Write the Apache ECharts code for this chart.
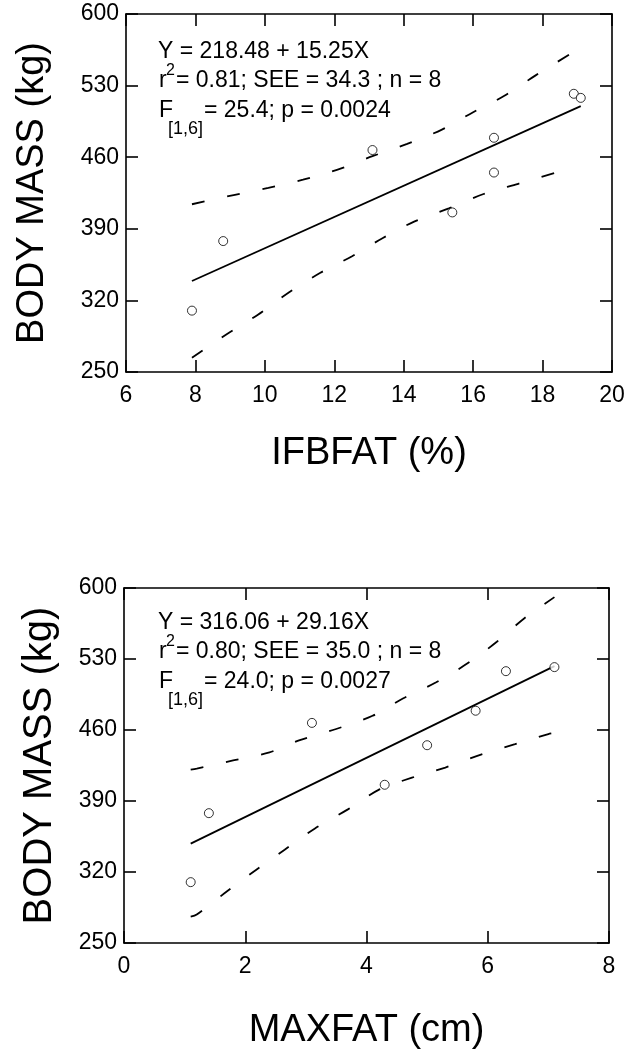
<!DOCTYPE html>
<html>
<head>
<meta charset="utf-8">
<script src="https://cdn.jsdelivr.net/npm/echarts@6/dist/echarts.min.js"></script>
<style>
  html, body { margin: 0; padding: 0; background: #fff; }
  #chart { width: 644px; height: 1051px; }
</style>
</head>
<body>
<div id="chart"></div>
<script>
// top panel: body mass vs IFBFAT
const ifbX = [7.9, 8.8, 13.1, 15.4, 16.6, 16.6, 18.9, 19.1]
const ifbMass = [310, 378, 467, 406, 479, 445, 522, 518]
const ifbFitX = [7.9, 19.1]
const ifbFitY = [339, 510]
const ifbUpperX = [7.9, 9.1, 10.1, 11.1, 12.2, 13.1, 14.1, 15.1, 16.0, 16.9, 17.8, 18.9]
const ifbUpperY = [414, 423, 430, 438, 449, 461, 473, 487, 504, 520, 540, 563]
const ifbLowerX = [7.9, 8.9, 9.8, 10.7, 11.6, 12.5, 13.4, 14.3, 15.3, 16.3, 17.3, 18.5]
const ifbLowerY = [264, 287, 306, 328, 347, 363, 381, 397, 410, 424, 434, 446]

// bottom panel: body mass vs MAXFAT
const maxX = [1.1, 1.4, 3.1, 4.3, 5.0, 5.8, 6.3, 7.1]
const maxMass = [310, 378, 467, 406, 445, 479, 518, 522]
const maxFitX = [1.1, 7.1]
const maxFitY = [348, 523]
const maxUpperX = [1.1, 1.2, 1.8, 2.4, 2.9, 3.5, 4.1, 4.6, 5.15, 5.7, 6.15, 6.6, 7.1]
const maxUpperY = [421, 422, 430, 438, 450, 461, 474, 491, 507, 527, 547, 570, 591]
const maxLowerX = [1.1, 1.2, 1.7, 2.2, 2.65, 3.15, 3.7, 4.2, 4.75, 5.3, 5.9, 6.45, 7.0, 7.1]
const maxLowerY = [276, 278, 301, 323, 342, 363, 382, 401, 413, 423, 436, 446, 456, 457]

const font = 'Liberation Sans, Arial, Helvetica, sans-serif'

const pairs = (xs, ys) => xs.map((x, i) => [x, ys[i]])

const axisLineStyle = { color: '#000', width: 1.6 }

function valueAxis (extra) {
  return Object.assign({
    type: 'value',
    axisLine: { show: true, onZero: false, lineStyle: axisLineStyle },
    axisTick: { show: true, inside: true, length: 12, lineStyle: axisLineStyle },
    splitLine: { show: false },
    nameLocation: 'middle'
  }, extra)
}

function frameAxes (xMin, xMax, xStep, xName, xGap, yGap, titleSize) {
  const nameStyle = { color: '#000', fontFamily: font, fontSize: titleSize }
  const xs = [
    valueAxis({ min: xMin, max: xMax, interval: xStep, position: 'bottom',
      name: xName, nameGap: xGap, nameTextStyle: { color: '#000', fontFamily: font, fontSize: 38 },
      axisLabel: { color: '#000', fontSize: 23, fontFamily: font, margin: 12 } }),
    valueAxis({ min: xMin, max: xMax, interval: xStep, position: 'top', axisLabel: { show: false } })
  ]
  const ys = [
    valueAxis({ min: 250, max: 600, interval: 70, position: 'left',
      name: 'BODY MASS (kg)', nameGap: yGap, nameTextStyle: nameStyle,
      axisLabel: { color: '#000', fontSize: 23, fontFamily: font, margin: 7 } }),
    valueAxis({ min: 250, max: 600, interval: 70, position: 'right', axisLabel: { show: false } })
  ]
  return { xs, ys }
}

const upperPanel = frameAxes(6, 20, 2, 'IFBFAT (%)', 63, 74, 38)
const lowerPanel = frameAxes(0, 8, 2, 'MAXFAT (cm)', 69, 64, 40)
upperPanel.xs.concat(upperPanel.ys).forEach(a => { a.gridIndex = 0 })
lowerPanel.xs.concat(lowerPanel.ys).forEach(a => { a.gridIndex = 1 })

function panelSeries (axisIdx, pts, fit, upper, lower) {
  const lineBase = {
    type: 'line',
    xAxisIndex: axisIdx,
    yAxisIndex: axisIdx,
    showSymbol: false,
    symbol: 'none',
    silent: true,
    animation: false
  }
  return [
    Object.assign({}, lineBase, { data: fit, lineStyle: { color: '#000', width: 1.8 } }),
    Object.assign({}, lineBase, { data: upper, smooth: 0.3, lineStyle: { color: '#000', width: 1.8, type: [13, 23] } }),
    Object.assign({}, lineBase, { data: lower, smooth: 0.3, lineStyle: { color: '#000', width: 1.8, type: [13, 23] } }),
    {
      type: 'scatter',
      xAxisIndex: axisIdx,
      yAxisIndex: axisIdx,
      data: pts,
      symbol: 'circle',
      symbolSize: 9,
      itemStyle: { color: '#fff', borderColor: '#000', borderWidth: 1 },
      animation: false,
      z: 5
    }
  ]
}

function txt (x, y, text, size) {
  return {
    type: 'text',
    x,
    y,
    style: { text, fill: '#000', fontFamily: font, fontSize: size, verticalAlign: 'bottom' }
  }
}

function statBlock (dy, eq, stats, ftest) {
  return [
    txt(158, 63 + dy, eq, 23),
    txt(159, 92 + dy, 'r', 23),
    txt(166, 79 + dy, '2', 16),
    txt(176, 92 + dy, stats, 23),
    txt(159, 122 + dy, 'F', 23),
    txt(168, 138 + dy, '[1,6]', 18),
    txt(204, 122 + dy, ftest, 23)
  ]
}

const chart = echarts.init(document.getElementById('chart'))
chart.setOption({
  backgroundColor: '#fff',
  animation: false,
  grid: [
    { left: 126, top: 14, width: 486, height: 358 },
    { left: 124, top: 588, width: 485, height: 358 }
  ],
  xAxis: [...upperPanel.xs, ...lowerPanel.xs],
  yAxis: [...upperPanel.ys, ...lowerPanel.ys],
  series: [
    ...panelSeries(0, pairs(ifbX, ifbMass), pairs(ifbFitX, ifbFitY), pairs(ifbUpperX, ifbUpperY), pairs(ifbLowerX, ifbLowerY)),
    ...panelSeries(2, pairs(maxX, maxMass), pairs(maxFitX, maxFitY), pairs(maxUpperX, maxUpperY), pairs(maxLowerX, maxLowerY))
  ],
  graphic: [
    ...statBlock(0, 'Y = 218.48 + 15.25X', '= 0.81; SEE = 34.3 ; n = 8', '= 25.4; p = 0.0024'),
    ...statBlock(571, 'Y = 316.06 + 29.16X', '= 0.80; SEE = 35.0 ; n = 8', '= 24.0; p = 0.0027')
  ]
})
</script>
</body>
</html>
